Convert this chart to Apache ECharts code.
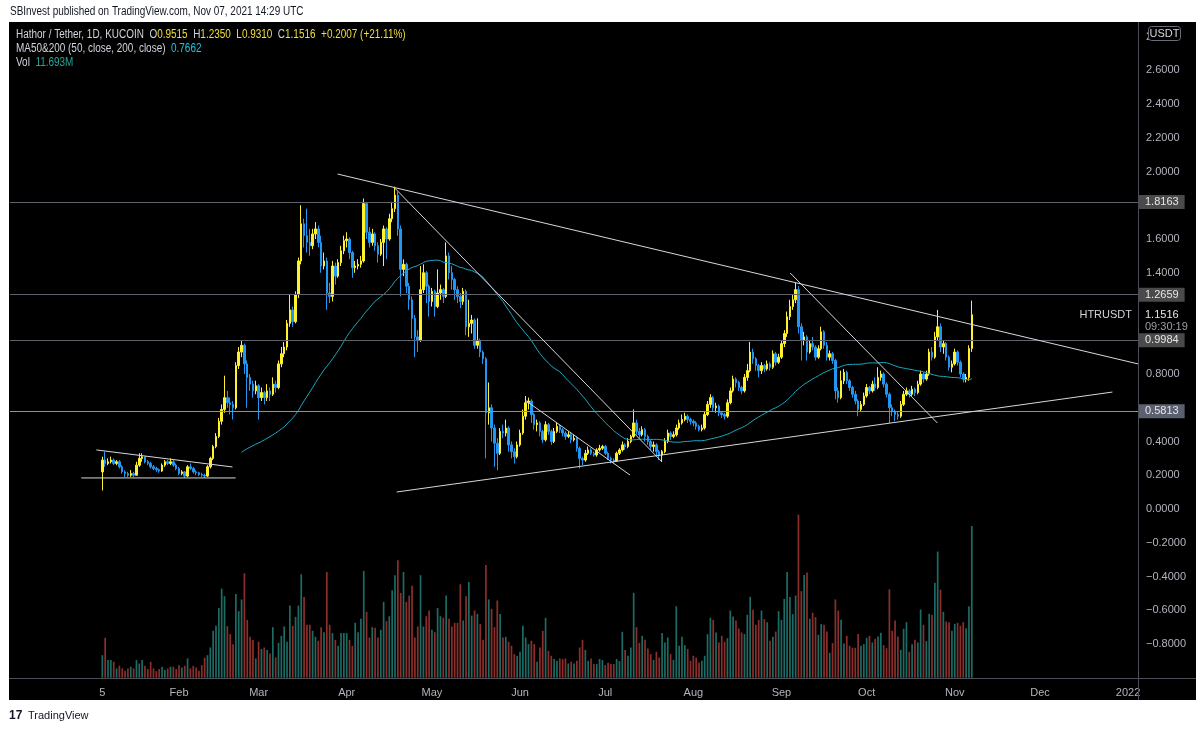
<!DOCTYPE html>
<html>
<head>
<meta charset="utf-8">
<title>HTRUSDT 1D</title>
<script src="https://cdn.jsdelivr.net/npm/echarts@6/dist/echarts.min.js"></script>
<style>
  html, body { margin: 0; padding: 0; background: #ffffff; }
  #chart { width: 1200px; height: 729px; }
</style>
</head>
<body>
<div id="chart"></div>
<script>
// daily candles, Jan 5 2021 .. Nov 7 2021 (HTR/USDT, KuCoin)
const firstDate = '2021-01-05'
const padBefore = 32      // empty days drawn left of the first candle
const totalDays = 397     // axis runs on into Jan 2022

const open = [
  0.22,0.29,0.27,0.28,0.29,0.27,0.28,0.25,0.22,0.21,
  0.20,0.21,0.20,0.26,0.30,0.31,0.28,0.27,0.25,0.24,
  0.232,0.225,0.26,0.28,0.27,0.28,0.26,0.24,0.21,0.22,
  0.195,0.25,0.24,0.22,0.215,0.205,0.20,0.195,0.25,0.30,
  0.37,0.43,0.52,0.59,0.66,0.63,0.62,0.60,0.85,0.93,
  0.97,0.86,0.78,0.74,0.70,0.73,0.66,0.69,0.66,0.70,
  0.68,0.74,0.72,0.86,0.92,0.96,1.10,1.18,1.11,1.27,
  1.47,1.69,1.62,1.58,1.56,1.63,1.66,1.58,1.44,1.47,
  1.28,1.26,1.44,1.38,1.46,1.53,1.59,1.60,1.52,1.43,
  1.44,1.45,1.47,1.81,1.64,1.58,1.63,1.56,1.51,1.58,
  1.66,1.60,1.72,1.78,1.86,1.66,1.42,1.45,1.32,1.24,
  1.13,1.02,1.00,1.30,1.40,1.32,1.23,1.29,1.20,1.28,
  1.30,1.26,1.50,1.40,1.36,1.30,1.26,1.23,1.29,1.08,
  1.10,1.12,0.97,1.00,0.93,0.89,0.57,0.60,0.48,0.39,
  0.33,0.46,0.45,0.48,0.38,0.34,0.31,0.38,0.45,0.55,
  0.63,0.64,0.56,0.50,0.51,0.46,0.41,0.50,0.46,0.40,
  0.46,0.49,0.47,0.45,0.43,0.44,0.41,0.42,0.36,0.30,
  0.29,0.33,0.35,0.33,0.32,0.35,0.36,0.37,0.33,0.30,
  0.29,0.285,0.33,0.35,0.38,0.37,0.40,0.43,0.51,0.46,
  0.44,0.47,0.43,0.40,0.37,0.38,0.34,0.32,0.34,0.40,
  0.45,0.43,0.44,0.48,0.51,0.53,0.55,0.53,0.52,0.51,
  0.49,0.47,0.48,0.56,0.62,0.66,0.60,0.61,0.57,0.56,
  0.55,0.63,0.70,0.77,0.75,0.72,0.70,0.78,0.82,0.93,
  0.89,0.85,0.82,0.85,0.83,0.86,0.84,0.92,0.87,0.90,
  0.98,1.04,1.14,1.20,1.24,1.30,1.08,1.00,1.02,0.93,
  0.98,0.96,0.90,0.95,1.05,0.97,0.90,0.92,0.88,0.70,
  0.66,0.76,0.81,0.76,0.72,0.68,0.64,0.59,0.62,0.67,
  0.72,0.70,0.74,0.72,0.78,0.80,0.74,0.68,0.60,0.58,
  0.56,0.55,0.62,0.68,0.70,0.68,0.71,0.69,0.74,0.80,
  0.77,0.80,0.93,0.90,1.02,1.08,0.96,0.98,0.90,0.84,
  0.86,0.93,0.87,0.80,0.77,0.78,0.9515
]
const close = [
  0.29,0.27,0.28,0.29,0.27,0.28,0.25,0.22,0.21,0.20,
  0.21,0.20,0.26,0.30,0.31,0.28,0.27,0.25,0.24,0.232,
  0.225,0.26,0.28,0.27,0.28,0.26,0.24,0.21,0.22,0.195,
  0.25,0.24,0.22,0.215,0.205,0.20,0.195,0.25,0.30,0.37,
  0.43,0.52,0.59,0.66,0.63,0.62,0.60,0.85,0.93,0.97,
  0.86,0.78,0.74,0.70,0.73,0.66,0.69,0.66,0.70,0.68,
  0.74,0.72,0.86,0.92,0.96,1.10,1.18,1.11,1.27,1.47,
  1.69,1.62,1.58,1.56,1.63,1.66,1.58,1.44,1.47,1.28,
  1.26,1.44,1.38,1.46,1.53,1.59,1.60,1.52,1.43,1.44,
  1.45,1.47,1.81,1.64,1.58,1.63,1.56,1.51,1.58,1.66,
  1.60,1.72,1.78,1.86,1.66,1.42,1.45,1.32,1.24,1.13,
  1.02,1.00,1.30,1.40,1.32,1.23,1.29,1.20,1.28,1.30,
  1.26,1.50,1.40,1.36,1.30,1.26,1.23,1.29,1.08,1.10,
  1.12,0.97,1.00,0.93,0.89,0.57,0.60,0.48,0.39,0.33,
  0.46,0.45,0.48,0.38,0.34,0.31,0.38,0.45,0.55,0.63,
  0.64,0.56,0.50,0.51,0.46,0.41,0.50,0.46,0.40,0.46,
  0.49,0.47,0.45,0.43,0.44,0.41,0.42,0.36,0.30,0.29,
  0.33,0.35,0.33,0.32,0.35,0.36,0.37,0.33,0.30,0.29,
  0.285,0.33,0.35,0.38,0.37,0.40,0.43,0.51,0.46,0.44,
  0.47,0.43,0.40,0.37,0.38,0.34,0.32,0.34,0.40,0.45,
  0.43,0.44,0.48,0.51,0.53,0.55,0.53,0.52,0.51,0.49,
  0.47,0.48,0.56,0.62,0.66,0.60,0.61,0.57,0.56,0.55,
  0.63,0.70,0.77,0.75,0.72,0.70,0.78,0.82,0.93,0.89,
  0.85,0.82,0.85,0.83,0.86,0.84,0.92,0.87,0.90,0.98,
  1.04,1.14,1.20,1.24,1.30,1.08,1.00,1.02,0.93,0.98,
  0.96,0.90,0.95,1.05,0.97,0.90,0.92,0.88,0.70,0.66,
  0.76,0.81,0.76,0.72,0.68,0.64,0.59,0.62,0.67,0.72,
  0.70,0.74,0.72,0.78,0.80,0.74,0.68,0.60,0.58,0.56,
  0.55,0.62,0.68,0.70,0.68,0.71,0.69,0.74,0.80,0.77,
  0.80,0.93,0.90,1.02,1.08,0.96,0.98,0.90,0.84,0.86,
  0.93,0.87,0.80,0.77,0.78,0.9509,1.1516
]
const low = [
  0.11,0.25,0.26,0.27,0.26,0.26,0.24,0.21,0.19,0.19,
  0.19,0.19,0.20,0.25,0.28,0.27,0.26,0.24,0.23,0.22,
  0.215,0.22,0.25,0.26,0.26,0.25,0.23,0.20,0.20,0.185,
  0.19,0.23,0.21,0.20,0.195,0.19,0.185,0.19,0.24,0.29,
  0.36,0.42,0.50,0.57,0.60,0.56,0.53,0.59,0.83,0.90,
  0.80,0.60,0.70,0.66,0.68,0.53,0.64,0.62,0.64,0.64,
  0.67,0.69,0.71,0.84,0.90,0.94,1.08,1.08,1.10,1.25,
  1.45,1.55,1.52,1.50,1.54,1.60,1.55,1.40,1.42,1.18,
  1.22,1.23,1.33,1.37,1.44,1.51,1.55,1.48,1.37,1.40,
  1.42,1.43,1.46,1.60,1.55,1.56,1.53,1.46,1.50,1.44,
  1.48,1.59,1.70,1.76,1.62,1.26,1.38,1.28,1.18,1.01,
  0.90,0.93,0.99,1.28,1.22,1.14,1.20,1.14,1.19,1.24,
  1.22,1.25,1.36,1.30,1.24,1.22,1.19,1.21,1.03,1.02,
  1.04,0.95,0.95,0.90,0.86,0.30,0.50,0.40,0.25,0.23,
  0.32,0.42,0.43,0.34,0.30,0.27,0.30,0.37,0.44,0.53,
  0.59,0.51,0.47,0.46,0.43,0.39,0.40,0.44,0.38,0.39,
  0.45,0.45,0.43,0.41,0.42,0.39,0.40,0.34,0.24,0.26,
  0.28,0.32,0.32,0.31,0.31,0.34,0.35,0.32,0.29,0.27,
  0.27,0.28,0.32,0.34,0.35,0.36,0.39,0.42,0.44,0.42,
  0.43,0.40,0.38,0.35,0.34,0.32,0.29,0.28,0.33,0.39,
  0.41,0.42,0.43,0.47,0.50,0.52,0.51,0.50,0.49,0.47,
  0.46,0.46,0.47,0.55,0.60,0.58,0.57,0.55,0.54,0.53,
  0.54,0.62,0.69,0.72,0.70,0.68,0.69,0.76,0.81,0.86,
  0.82,0.78,0.80,0.81,0.82,0.82,0.83,0.85,0.86,0.89,
  0.96,1.02,1.12,1.18,1.22,1.04,0.88,0.97,0.88,0.92,
  0.94,0.88,0.89,0.94,0.95,0.88,0.88,0.86,0.65,0.63,
  0.65,0.74,0.74,0.70,0.66,0.62,0.55,0.58,0.61,0.66,
  0.68,0.69,0.70,0.71,0.76,0.72,0.66,0.51,0.55,0.52,
  0.53,0.54,0.61,0.67,0.66,0.67,0.67,0.68,0.73,0.75,
  0.76,0.79,0.88,0.89,1.00,0.93,0.92,0.88,0.82,0.81,
  0.85,0.85,0.78,0.75,0.75,0.76,0.931
]
const high = [
  0.31,0.34,0.30,0.31,0.30,0.29,0.29,0.26,0.23,0.22,
  0.23,0.22,0.28,0.33,0.33,0.31,0.29,0.28,0.26,0.25,
  0.24,0.27,0.29,0.29,0.30,0.29,0.27,0.25,0.23,0.225,
  0.26,0.27,0.25,0.23,0.22,0.215,0.21,0.26,0.31,0.38,
  0.45,0.54,0.62,0.79,0.70,0.66,0.64,0.87,0.96,1.00,
  0.98,0.88,0.80,0.76,0.76,0.74,0.72,0.70,0.74,0.72,
  0.78,0.76,0.88,0.96,0.99,1.12,1.27,1.20,1.29,1.49,
  1.80,1.72,1.78,1.66,1.66,1.70,1.68,1.62,1.52,1.49,
  1.34,1.47,1.46,1.48,1.56,1.62,1.64,1.61,1.53,1.47,
  1.48,1.50,1.84,1.82,1.67,1.66,1.64,1.58,1.60,1.68,
  1.67,1.75,1.82,1.91,1.88,1.68,1.48,1.46,1.34,1.26,
  1.15,1.06,1.44,1.45,1.41,1.33,1.31,1.30,1.42,1.33,
  1.31,1.58,1.52,1.44,1.37,1.32,1.28,1.31,1.30,1.24,
  1.15,1.13,1.13,1.01,0.94,0.90,0.75,0.62,0.50,0.42,
  0.48,0.50,0.53,0.49,0.40,0.36,0.40,0.47,0.59,0.67,
  0.66,0.65,0.57,0.53,0.52,0.47,0.52,0.51,0.47,0.48,
  0.51,0.50,0.48,0.46,0.46,0.45,0.44,0.43,0.37,0.31,
  0.35,0.37,0.36,0.34,0.36,0.38,0.38,0.38,0.34,0.31,
  0.30,0.34,0.36,0.40,0.39,0.42,0.44,0.59,0.53,0.48,
  0.49,0.48,0.44,0.41,0.40,0.39,0.35,0.35,0.42,0.47,
  0.46,0.46,0.50,0.53,0.56,0.57,0.56,0.54,0.53,0.52,
  0.50,0.50,0.58,0.64,0.68,0.67,0.63,0.62,0.58,0.57,
  0.65,0.72,0.79,0.78,0.76,0.73,0.80,0.86,0.99,0.95,
  0.90,0.86,0.87,0.86,0.88,0.87,0.94,0.93,0.92,1.00,
  1.06,1.17,1.24,1.27,1.34,1.32,1.10,1.05,1.03,1.00,
  1.02,0.97,0.97,1.08,1.06,0.99,0.94,0.93,0.89,0.72,
  0.82,0.83,0.82,0.77,0.73,0.70,0.65,0.64,0.69,0.74,
  0.73,0.76,0.78,0.84,0.82,0.81,0.75,0.69,0.62,0.59,
  0.58,0.64,0.70,0.72,0.71,0.73,0.72,0.76,0.82,0.81,
  0.82,0.95,0.96,1.05,1.18,1.10,1.00,0.99,0.91,0.88,
  0.95,0.94,0.88,0.81,0.80,0.97,1.235
]
// volume in millions of HTR
const volume = [
  1.74,3.08,1.36,1.36,1.23,0.72,0.92,0.72,0.54,0.72,
  0.85,0.72,1.36,1.10,1.36,0.92,0.67,1.23,0.72,0.51,
  0.67,0.85,0.59,0.72,0.85,0.85,0.67,0.97,0.79,0.92,
  1.49,0.72,0.92,0.79,0.54,0.97,1.54,1.74,2.33,3.62,
  4.00,5.38,6.87,6.28,3.97,3.36,2.59,6.46,5.13,6.03,
  8.05,4.46,3.15,2.90,1.49,2.77,2.21,2.33,2.13,1.87,
  3.90,1.56,2.69,3.23,3.95,2.77,5.56,4.00,4.69,5.56,
  7.97,6.23,4.08,4.08,3.62,3.15,2.85,3.90,3.51,8.15,
  4.08,3.44,2.92,2.46,3.44,3.44,3.44,2.92,2.46,4.23,
  3.51,4.54,8.23,5.08,3.10,3.90,3.85,3.10,3.69,5.85,
  4.36,4.74,6.74,7.90,9.05,6.54,8.15,5.85,6.33,7.08,
  3.10,3.95,7.90,3.95,4.74,5.18,3.69,3.51,5.38,4.74,
  4.62,6.33,4.54,3.95,4.23,4.23,7.20,4.41,6.28,7.38,
  4.79,5.18,4.92,4.15,2.92,8.69,6.03,5.31,3.90,5.95,
  4.92,3.10,3.15,2.77,2.46,1.82,1.69,2.00,4.00,3.10,
  2.59,2.85,2.59,1.23,2.33,3.62,4.62,2.08,1.69,1.44,
  1.31,1.49,1.44,1.49,1.10,1.23,1.10,1.31,2.33,2.92,
  2.15,1.31,1.49,1.05,1.05,1.44,1.36,0.97,1.15,1.05,
  1.05,1.44,1.28,3.54,2.13,1.69,2.33,6.54,3.90,2.69,
  3.23,2.92,2.26,1.82,1.38,2.00,1.56,3.44,2.72,3.10,
  1.82,1.38,5.51,2.46,3.15,2.51,2.21,1.31,1.69,1.54,
  1.18,1.31,1.69,3.36,4.62,4.46,3.49,2.72,3.23,2.77,
  3.05,5.18,4.72,4.41,3.79,3.49,3.36,4.85,6.23,5.23,
  4.08,4.46,5.18,4.51,4.28,2.85,3.15,3.56,5.13,4.46,
  6.08,8.15,6.23,4.90,6.33,12.56,6.67,7.92,8.10,4.54,
  5.00,4.67,3.31,4.13,4.08,3.56,1.92,2.67,6.03,5.18,
  4.46,2.64,3.23,2.46,2.31,2.31,3.38,2.46,2.59,3.08,
  3.23,2.72,3.00,3.18,3.46,2.51,2.28,6.82,3.62,4.41,
  3.18,2.15,3.77,4.28,2.00,2.59,2.92,2.72,5.26,4.08,
  2.82,4.92,4.85,7.31,9.72,6.79,5.08,4.33,4.28,3.62,
  4.15,4.23,4.00,4.28,3.82,5.51,11.69
]

// horizontal levels and drawn trendlines: [day index from Jan 5, price]
const levels = [1.8163, 1.2659, 0.9984, 0.5813]
const lastPrice = 1.1516
const trendlines = [
  [[82.8, 1.985], [364.7, 0.859]],   // long falling top line
  [[103.6, 0.1007], [355.5, 0.693]], // rising support
  [[102.9, 1.902], [197.0, 0.2785]], // April high breakdown line
  [[148.7, 0.646], [185.7, 0.2015]], // June flag top
  [[242.1, 1.3985], [293.9, 0.5096]],// September line
  [[-2.1, 0.35], [45.8, 0.249]],     // January range top
  [[-7.4, 0.184], [46.9, 0.184]]     // January range bottom
]

const months = ['Jan','Feb','Mar','Apr','May','Jun','Jul','Aug','Sep','Oct','Nov','Dec']
const priceTicksHidden = [1.8, 1.2, 1.0, 0.6]

const upColor = '#fff12e'
const downColor = '#2196f3'
const upVol = '#1d6b65'
const downVol = '#8c2f2c'
const axisText = '#b2b5be'
const font = "'Liberation Sans', Arial, sans-serif"
const squeeze = 0.83   // TradingView header font is narrower than Liberation Sans

// category axis: one slot per calendar day
const dates = []
const start = Date.UTC(2021, 0, 5) - padBefore * 86400000
for (let k = 0; k < totalDays; k++) {
  dates.push(new Date(start + k * 86400000).toISOString().slice(0, 10))
}

const candles = close.map((c, i) => [dates[padBefore + i], open[i], c, low[i], high[i]])
const volBars = volume.map((v, i) => ({
  value: [dates[padBefore + i], v],
  itemStyle: { color: close[i] >= open[i] ? upVol : downVol }
}))

// MA 50 of close
const ma50 = []
for (let i = 49; i < close.length; i++) {
  let s = 0
  for (let j = i - 49; j <= i; j++) s += close[j]
  ma50.push([dates[padBefore + i], s / 50])
}

const levelLines = levels.map(v => ({
  yAxis: v,
  lineStyle: { color: v === 0.5813 ? '#8d919b' : '#5f626b', width: 1, type: 'solid' },
  label: {
    show: true,
    position: 'end',
    distance: 1,
    formatter: () => v.toFixed(4),
    color: '#e6e6e6',
    fontSize: 11,
    backgroundColor: v === 0.5813 ? '#5b6070' : '#4a4a4a',
    padding: [2, 6, 1, 6]
  }
}))

const chart = echarts.init(document.getElementById('chart'))

chart.setOption({
  animation: false,
  backgroundColor: '#000000',
  textStyle: { fontFamily: font },
  grid: { left: 10, right: 62, top: 2.75, bottom: 51.25, containLabel: false },
  xAxis: [
    {
      type: 'category',
      data: dates,
      boundaryGap: true,
      axisLine: { show: false },
      axisTick: { show: false },
      splitLine: { show: false },
      axisLabel: {
        color: axisText,
        fontSize: 11,
        margin: 10,
        interval: (idx, val) => val === firstDate || (val.slice(8) === '01' && val > '2021-01-31'),
        formatter: val => {
          if (val === firstDate) return '5'
          const m = +val.slice(5, 7)
          return m === 1 ? val.slice(0, 4) : months[m - 1]
        }
      }
    },
    { type: 'value', min: -0.5, max: totalDays - 0.5, show: false }
  ],
  yAxis: [
    {
      type: 'value',
      position: 'right',
      min: -1,
      max: 3,
      interval: 0.2,
      axisLine: { show: false },
      axisTick: { show: false },
      splitLine: { show: false },
      axisLabel: {
        color: axisText,
        fontSize: 11,
        margin: 8,
        formatter: v => {
          if (v > 2.85 || v < -0.9) return ''
          if (priceTicksHidden.some(h => Math.abs(h - v) < 1e-6)) return ''
          return (v < 0 ? '\u2212' : '') + Math.abs(v).toFixed(4)
        }
      }
    },
    { type: 'value', min: 0, max: 52, show: false }
  ],
  series: [
    {
      name: 'Vol',
      type: 'bar',
      xAxisIndex: 0,
      yAxisIndex: 1,
      barWidth: 1.7,
      data: volBars,
      silent: true,
      z: 1
    },
    {
      name: 'HTRUSDT',
      type: 'candlestick',
      xAxisIndex: 0,
      yAxisIndex: 0,
      barWidth: 2,
      encode: { x: 0, y: [1, 2, 3, 4] },
      data: candles,
      itemStyle: {
        color: upColor, color0: downColor,
        borderColor: upColor, borderColor0: downColor, borderWidth: 1
      },
      z: 3,
      markLine: {
        symbol: ['none', 'none'],
        silent: true,
        animation: false,
        data: levelLines.concat([
          {
            yAxis: lastPrice,
            lineStyle: { color: 'rgba(0,0,0,0)', width: 1 },
            label: {
              show: true, position: 'end', distance: 7,
              formatter: '{e|}\n{p|1.1516}\n{t|09:30:19}',
              rich: {
                e: { fontSize: 11, lineHeight: 12 },
                p: { fontSize: 11, lineHeight: 12, color: '#e6e6e6' },
                t: { fontSize: 11, lineHeight: 12, color: '#9a9ea8' }
              }
            }
          },
          {
            yAxis: lastPrice,
            lineStyle: { color: 'rgba(0,0,0,0)', width: 1 },
            label: { show: true, position: 'insideEnd', distance: 6, formatter: 'HTRUSDT', color: '#d1d4dc', fontSize: 11 }
          }
        ])
      }
    },
    {
      name: 'MA50',
      type: 'line',
      xAxisIndex: 0,
      yAxisIndex: 0,
      data: ma50,
      showSymbol: false,
      silent: true,
      lineStyle: { color: '#18a9c4', width: 1 },
      z: 4
    }
  ].concat(trendlines.map(t => ({
    type: 'line',
    xAxisIndex: 1,
    yAxisIndex: 0,
    data: t.map(p => [p[0] + padBefore, p[1]]),
    showSymbol: false,
    silent: true,
    clip: true,
    lineStyle: { color: '#d6d8de', width: 1 },
    z: 5
  }))),
  graphic: [
    // white page around the dark chart box
    { type: 'rect', z: 100, shape: { x: 0, y: 0, width: 1200, height: 22 }, style: { fill: '#ffffff' } },
    { type: 'rect', z: 100, shape: { x: 0, y: 700, width: 1200, height: 29 }, style: { fill: '#ffffff' } },
    { type: 'rect', z: 100, shape: { x: 0, y: 0, width: 9, height: 729 }, style: { fill: '#ffffff' } },
    { type: 'rect', z: 100, shape: { x: 1196, y: 0, width: 4, height: 729 }, style: { fill: '#ffffff' } },
    // pane separators
    { type: 'line', z: 90, shape: { x1: 1138.5, y1: 22, x2: 1138.5, y2: 700 }, style: { stroke: '#4b4e56', lineWidth: 1 } },
    { type: 'line', z: 90, shape: { x1: 9, y1: 678.5, x2: 1196, y2: 678.5 }, style: { stroke: '#4b4e56', lineWidth: 1 } },
    // USDT currency box
    { type: 'rect', z: 95, shape: { x: 1148.5, y: 26.5, width: 32, height: 14, r: 3 }, style: { fill: '#000000', stroke: '#6a6d78', lineWidth: 1 } },
    { type: 'text', z: 96, x: 1164.5, y: 34, style: { text: 'USDT', fill: '#d1d4dc', font: '11px ' + font, textAlign: 'center', textVerticalAlign: 'middle' } },
    // page header and footer
    { type: 'text', z: 101, x: 10, y: 12, scaleX: squeeze, style: { text: 'SBInvest published on TradingView.com, Nov 07, 2021 14:29 UTC', fill: '#131722', font: '12px ' + font, textVerticalAlign: 'middle' } },
    { type: 'text', z: 101, x: 9, y: 716, style: { text: '17', fill: '#131722', font: 'bold 12px ' + font, textVerticalAlign: 'middle' } },
    { type: 'text', z: 101, x: 28, y: 716, style: { text: 'TradingView', fill: '#131722', font: '11px ' + font, textVerticalAlign: 'middle' } },
    // legend lines inside the chart
    { type: 'text', z: 101, x: 16, y: 35, scaleX: squeeze, style: {
      text: '{w|Hathor / Tether, 1D, KUCOIN}  {w|O}{y|0.9515}  {w|H}{y|1.2350}  {w|L}{y|0.9310}  {w|C}{y|1.1516}  {y|+0.2007 (+21.11%)}',
      font: '12px ' + font, textVerticalAlign: 'middle',
      rich: { w: { fill: '#d1d4dc', fontSize: 12 }, y: { fill: '#f2df3c', fontSize: 12 } } } },
    { type: 'text', z: 101, x: 16, y: 49, scaleX: squeeze, style: {
      text: '{w|MA50&200 (50, close, 200, close)}  {c|0.7662}',
      font: '12px ' + font, textVerticalAlign: 'middle',
      rich: { w: { fill: '#d1d4dc', fontSize: 12 }, c: { fill: '#22c3de', fontSize: 12 } } } },
    { type: 'text', z: 101, x: 16, y: 63, scaleX: squeeze, style: {
      text: '{w|Vol}  {t|11.693M}',
      font: '12px ' + font, textVerticalAlign: 'middle',
      rich: { w: { fill: '#d1d4dc', fontSize: 12 }, t: { fill: '#26a69a', fontSize: 12 } } } }
  ]
})
</script>
</body>
</html>
